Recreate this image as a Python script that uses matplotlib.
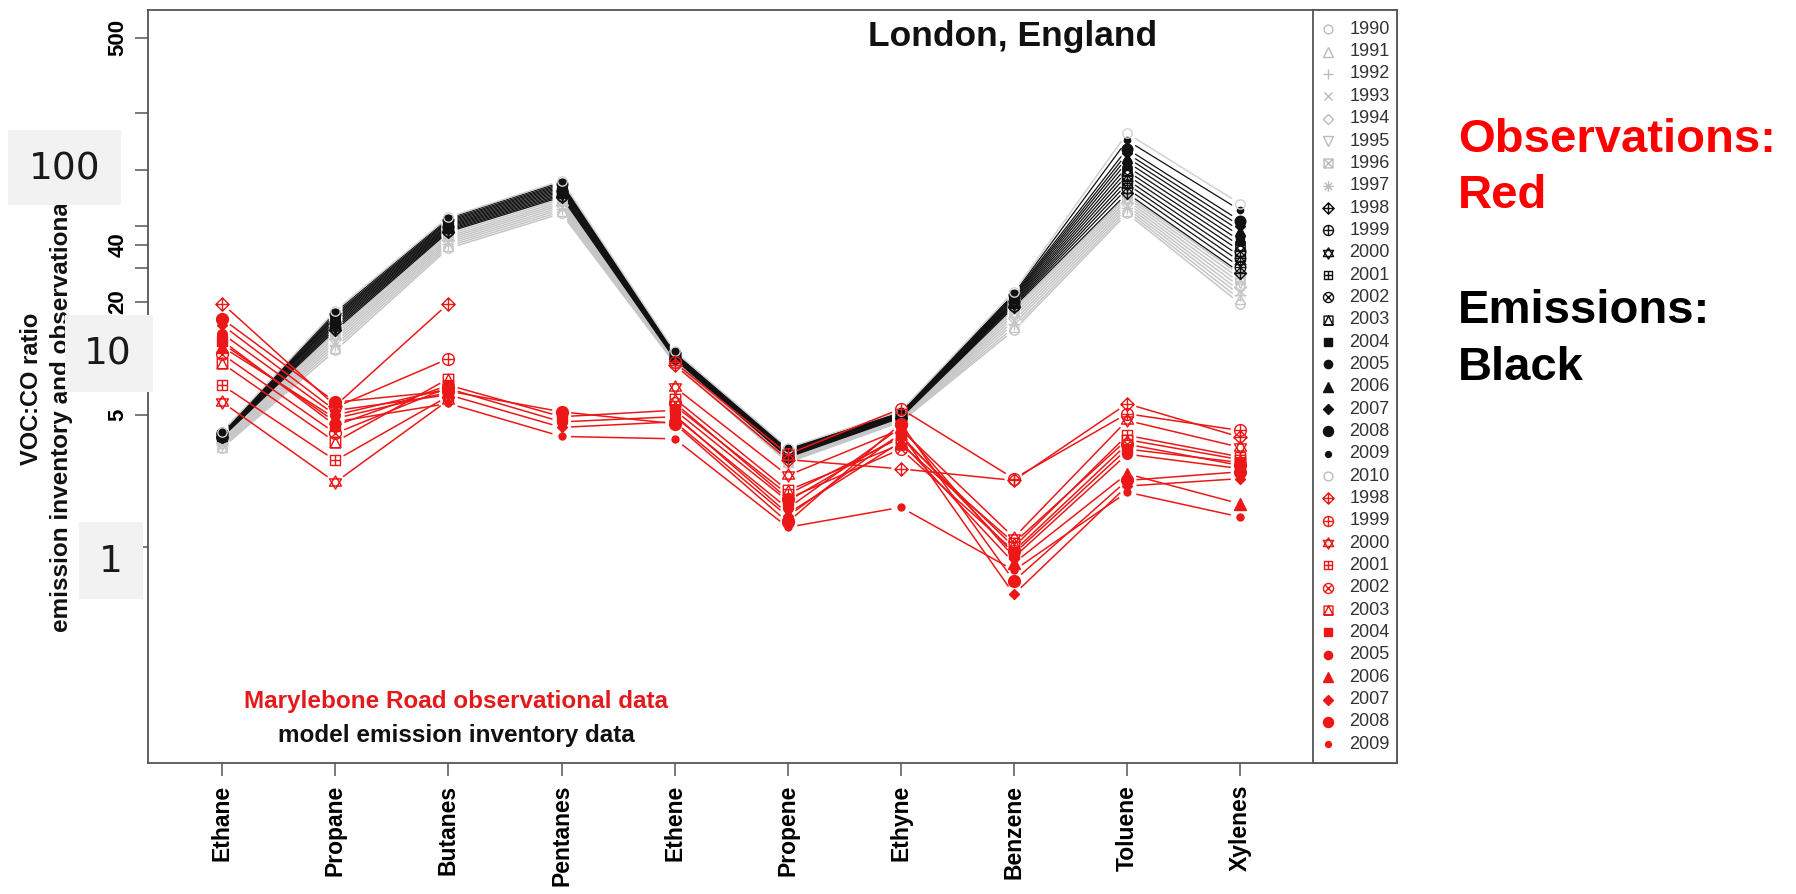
import numpy as np
import matplotlib
matplotlib.use('Agg')
import matplotlib.pyplot as plt
from matplotlib.path import Path
from matplotlib.patches import Rectangle
from matplotlib.ticker import NullLocator

plt.rcParams['font.family'] = ['Liberation Sans', 'DejaVu Sans']

species = ['Ethane', 'Propane', 'Butanes', 'Pentanes', 'Ethene',
           'Propene', 'Ethyne', 'Benzene', 'Toluene', 'Xylenes']
em_years = list(range(1990, 2011))
obs_years = list(range(1998, 2010))
nan = np.nan

# model emission inventory VOC:CO ratio, 1990..2010
em_ethane = [3.35, 3.40, 3.45, 3.50, 3.56, 3.62, 3.68, 3.75, 3.82, 3.84, 3.86, 3.88, 3.90, 3.92, 3.94, 3.96, 3.98, 4.00, 4.02, 4.05, 4.08]
em_propane = [11.0, 11.4, 11.8, 12.2, 12.6, 13.0, 13.4, 13.8, 14.1, 14.4, 14.7, 15.0, 15.3, 15.6, 15.9, 16.2, 16.5, 16.8, 17.1, 17.5, 17.9]
em_butanes = [38.3, 39.3, 40.3, 41.3, 42.3, 43.3, 44.3, 45.5, 46.8, 47.5, 48.2, 48.9, 49.6, 50.3, 51.0, 51.8, 52.6, 53.4, 54.2, 55.2, 56.0]
em_pentanes = [58.6, 60.1, 61.7, 63.3, 65.0, 66.6, 68.3, 70.0, 71.7, 72.9, 74.1, 75.4, 76.7, 78.0, 79.3, 80.6, 81.9, 83.2, 84.5, 86.0, 87.5]
em_ethene = [9.40, 9.45, 9.50, 9.55, 9.60, 9.65, 9.70, 9.80, 9.90, 10.0, 10.05, 10.1, 10.15, 10.2, 10.3, 10.4, 10.5, 10.55, 10.6, 10.7, 10.9]
em_propene = [2.80, 2.82, 2.84, 2.86, 2.88, 2.90, 2.92, 2.95, 2.98, 3.01, 3.04, 3.07, 3.10, 3.13, 3.16, 3.19, 3.22, 3.25, 3.28, 3.31, 3.35]
em_ethyne = [4.60, 4.63, 4.66, 4.69, 4.72, 4.75, 4.78, 4.81, 4.84, 4.87, 4.90, 4.93, 4.96, 4.99, 5.02, 5.05, 5.08, 5.11, 5.14, 5.18, 5.25]
em_benzene = [14.1, 14.6, 15.2, 15.8, 16.4, 17.0, 17.6, 18.2, 18.7, 19.0, 19.3, 19.6, 19.9, 20.2, 20.5, 20.8, 21.1, 21.4, 21.7, 22.0, 22.6]
em_toluene = [58.6, 60.5, 62.5, 64.5, 66.6, 68.8, 71.0, 73.0, 75.0, 79.5, 84.0, 88.5, 93.5, 98.5, 104, 110, 116, 122, 129, 143, 156]
em_xylenes = [19.5, 20.5, 21.6, 22.7, 23.9, 25.1, 26.4, 27.7, 28.5, 30.5, 32.6, 34.8, 37.1, 39.5, 42.0, 44.6, 47.4, 50.4, 53.6, 61.0, 66.0]

# Marylebone Road observations, 1998..2009
ob_ethane = [19.5, nan, 5.85, 7.2, 10.5, 9.4, 12.4, 13.5, 11.5, 15.0, 16.2, 12.0]
ob_propane = [5.6, 5.5, 2.2, 2.87, 4.0, 3.6, 4.4, 5.0, 4.8, 5.28, 5.85, 4.6]
ob_butanes = [19.5, 9.95, 6.0, 6.3, 7.0, 7.8, 7.2, 6.9, 6.6, 6.4, 6.7, 5.76]
ob_pentanes = [nan, nan, nan, nan, nan, nan, 4.9, 4.6, nan, 4.3, 5.2, 3.85]
ob_ethene = [9.2, 9.5, 7.03, 5.6, 5.8, 6.1, 5.3, 4.9, 5.0, 4.6, 4.5, 3.74]
ob_propene = [2.9, 3.1, 2.39, 1.9, 1.8, 1.99, 1.75, 1.6, 1.5, 1.45, 1.35, 1.27]
ob_ethyne = [2.59, 5.4, 4.2, 3.8, 3.3, 3.5, 3.9, 4.3, 3.6, 4.0, 4.5, 1.62]
ob_benzene = [2.25, 2.3, 1.12, 1.0, 0.95, 1.05, 0.92, 0.88, 0.82, 0.56, 0.66, 0.75]
ob_toluene = [5.74, 5.08, 4.68, 3.9, 3.5, 3.7, 3.3, 3.1, 2.44, 2.1, 2.25, 1.95]
ob_xylenes = [3.82, 4.14, 3.37, 3.0, 2.7, 2.9, 2.8, 2.6, 1.69, 2.3, 2.5, 1.44]

em = np.array([em_ethane, em_propane, em_butanes, em_pentanes, em_ethene,
               em_propene, em_ethyne, em_benzene, em_toluene, em_xylenes]).T
ob = np.array([ob_ethane, ob_propane, ob_butanes, ob_pentanes, ob_ethene,
               ob_propene, ob_ethyne, ob_benzene, ob_toluene, ob_xylenes]).T

# R-like plotting symbols
def poly(pts):
    return Path(pts + [pts[0]], [Path.MOVETO] + [Path.LINETO] * (len(pts) - 1) + [Path.CLOSEPOLY])

def seg(a, b):
    return Path([a, b], [Path.MOVETO, Path.LINETO])

comp = Path.make_compound_path
circ = Path.unit_circle()
sq = poly([(-1, -1), (1, -1), (1, 1), (-1, 1)])
dia = poly([(0, -1), (1, 0), (0, 1), (-1, 0)])
plus = comp(seg((-1, 0), (1, 0)), seg((0, -1), (0, 1)))
c = 0.707
xin = comp(seg((-c, -c), (c, c)), seg((-c, c), (c, -c)))
xfull = comp(seg((-1, -1), (1, 1)), seg((-1, 1), (1, -1)))
tup = poly([(-1, -0.6), (1, -0.6), (0, 1.1)])
tdn = poly([(-1, 0.6), (1, 0.6), (0, -1.1)])

# pch -> (marker, filled, size)
pch = {
    1: ('o', False, 7.5), 2: ('^', False, 8), 3: ('+', False, 9), 4: ('x', False, 7.5),
    5: ('D', False, 6.5), 6: ('v', False, 8), 7: (comp(sq, xfull), False, 7.5),
    8: (comp(plus, xin), False, 9), 9: (comp(dia, plus), False, 9.5),
    10: (comp(circ, plus), False, 8.5), 11: (comp(tup, tdn), False, 9.5),
    12: (comp(sq, plus), False, 7.5), 13: (comp(circ, xin), False, 8.5),
    14: (comp(sq, poly([(-1, -1), (1, -1), (0, 1)])), False, 7.5),
    15: ('s', True, 7), 16: ('o', True, 7), 17: ('^', True, 8),
    18: ('D', True, 5.5), 19: ('o', True, 8.5), 20: ('o', True, 5),
}

RED = '#ec1818'
GRAY = '#c6c6c6'
LGRAY = '#d2d2d2'

def em_style(yr):
    if yr == 2010:
        return 1, LGRAY
    p = yr - 1989
    return p, (GRAY if yr < 1998 else '#111111')

W, H = 1796, 894
fig = plt.figure(figsize=(W / 100, H / 100), dpi=100)
L, R, T, B = 148.3, 1396.7, 10, 763.3
ax = fig.add_axes([L / W, 1 - B / H, (R - L) / W, (B - T) / H])
ax.set_yscale('log')
ax.set_xlim(0.346, 11.384)
ax.set_ylim(10 ** -1.148, 10 ** 2.847)
x = np.arange(1, len(species) + 1)

def gapped(xs, ys, gap=9.5, **kw):
    # type="b": segments stop short of the points
    pts = ax.transData.transform(np.column_stack([xs, ys]))
    inv = ax.transData.inverted()
    for i in range(len(xs) - 1):
        if np.isnan(ys[i]) or np.isnan(ys[i + 1]):
            continue
        p0, p1 = pts[i], pts[i + 1]
        d = p1 - p0
        n = np.hypot(*d)
        s = inv.transform([p0 + d * gap / n, p1 - d * gap / n])
        ax.plot(s[:, 0], s[:, 1], solid_capstyle='butt', **kw)

def marks(xs, ys, p, col, scale=1.0, target=None):
    m, filled, ms = pch[p]
    (target or ax).plot(xs, ys, ls='none', marker=m, ms=ms * scale,
                        mfc=col if filled else 'none', mec=col, mew=1.0, zorder=4)

for i, yr in enumerate(em_years):
    p, col = em_style(yr)
    gapped(x, em[i], color=col, lw=0.9 if col == '#111111' else 1.1, zorder=2)
    marks(x, em[i], p, col, scale=0.9)

for i, yr in enumerate(obs_years):
    gapped(x, ob[i], color=RED, lw=1.1, zorder=3)
    marks(x, ob[i], yr - 1989, RED)

# axes styling
for s in ax.spines.values():
    s.set_color('#555555')
    s.set_linewidth(1.3)
ax.set_xticks(x)
ax.set_xticklabels(species, rotation=90, fontsize=16.5, fontweight='bold')
yt = [1, 5, 10, 20, 30, 40, 50, 100, 200, 500]
ylab = ['', '5', '', '20', '', '40', '', '', '', '500']
ax.set_yticks(yt)
ax.set_yticklabels(ylab, rotation=90, va='center', fontsize=16, fontweight='bold')
ax.yaxis.set_minor_locator(NullLocator())
ax.tick_params(axis='both', direction='out', length=9.4, width=1.1, color='#555555')
ax.tick_params(axis='y', pad=5)
ax.tick_params(axis='x', pad=6)

# legend panel
axl = fig.add_axes([1313.3 / W, 1 - B / H, (R - 1313.3) / W, (B - T) / H])
axl.set_xlim(1313.3, R)
axl.set_ylim(B, T)
axl.set_xticks([])
axl.set_yticks([])
for s in axl.spines.values():
    s.set_color('#555555')
    s.set_linewidth(1.3)
entries = [(yr,) + em_style(yr) for yr in em_years] + [(yr, yr - 1989, RED) for yr in obs_years]
for k, (yr, p, col) in enumerate(entries):
    yy = 29.3 + k * 22.34
    lcol = '#bbbbbb' if col in (GRAY, LGRAY) else col
    marks([1328.3], [yy], p, lcol, scale=0.85, target=axl)
    axl.text(1349.3, yy, str(yr), fontsize=13, color='#333333', va='center', ha='left')

# texts
fig.text(1012.5 / W, 1 - 46 / H, 'London, England', ha='center', va='baseline',
         fontsize=25.5, fontweight='bold', color='#111111')
fig.text(456 / W, 1 - 708 / H, 'Marylebone Road observational data', ha='center',
         va='baseline', fontsize=17.5, fontweight='bold', color='#e31a1c')
fig.text(456 / W, 1 - 741.7 / H, 'model emission inventory data', ha='center',
         va='baseline', fontsize=17.5, fontweight='bold', color='#111111')
fig.text(31.7 / W, 1 - 389 / H, 'VOC:CO ratio', rotation=90, ha='center', va='center',
         fontsize=17, fontweight='bold', color='#111111')
fig.text(61.7 / W, 1 - 385 / H, 'emission inventory and observational data', rotation=90,
         ha='center', va='center', fontsize=17.5, fontweight='bold', color='#111111')

fig.text(1458.3 / W, 1 - 151.7 / H, 'Observations:', color='red', fontsize=34,
         fontweight='bold', va='baseline')
fig.text(1458.3 / W, 1 - 208 / H, 'Red', color='red', fontsize=34, fontweight='bold', va='baseline')
fig.text(1458.3 / W, 1 - 323 / H, 'Emissions:', color='black', fontsize=34,
         fontweight='bold', va='baseline')
fig.text(1458.3 / W, 1 - 380 / H, 'Black', color='black', fontsize=34, fontweight='bold', va='baseline')

# grey overlay boxes with the decade values
for lab, x0, x1, y0, y1, cx, cy in [('100', 8.3, 120.7, 130, 205, 65, 169),
                                    ('10', 65, 153, 314.7, 392.2, 108, 354.6),
                                    ('1', 79, 143.3, 521.7, 598.6, 111, 561.6)]:
    fig.add_artist(Rectangle((x0 / W, 1 - y1 / H), (x1 - x0) / W, (y1 - y0) / H,
                             transform=fig.transFigure, facecolor='#f2f2f2',
                             edgecolor='none', zorder=5))
    fig.text(cx / W, 1 - cy / H, lab, ha='center', va='center', fontsize=27,
             family='DejaVu Sans', color='#1a1a1a', zorder=6)

fig.savefig('out.png', dpi=100, facecolor='white')
